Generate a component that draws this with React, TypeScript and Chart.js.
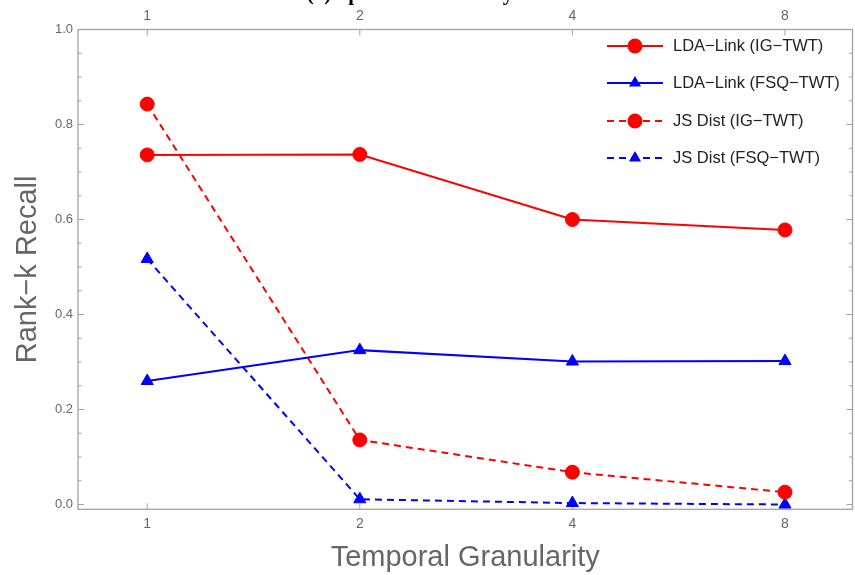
import React, { useEffect, useRef } from "react";
import { Chart, registerables } from "chart.js";

Chart.register(...registerables);

// ---- data ----
const granularity = [1, 2, 4, 8];
const xTickLabels = ["1", "2", "4", "8"];
const yTicks = [0, 0.2, 0.4, 0.6, 0.8, 1.0];
const yMinorTicks = [0.05, 0.1, 0.15, 0.25, 0.3, 0.35, 0.45, 0.5, 0.55, 0.65, 0.7, 0.75, 0.85, 0.9, 0.95];
const ldaLinkIG = [0.736, 0.737, 0.6, 0.578];
const ldaLinkFSQ = [0.26, 0.325, 0.301, 0.302];
const jsDistIG = [0.843, 0.136, 0.068, 0.026];
const jsDistFSQ = [0.517, 0.011, 0.003, 0.0];
const seriesNames = ["LDA\u2212Link (IG\u2212TWT)", "LDA\u2212Link (FSQ\u2212TWT)", "JS Dist (IG\u2212TWT)", "JS Dist (FSQ\u2212TWT)"];
const titleText = "(a) Spatial Granularity";
const xTitle = "Temporal Granularity";
const yTitle = "Rank\u2212k Recall";

const RED = "#ff0000";
const BLUE = "#0000ff";
const FRAME = "#a3a3a3";
const TEXT_GRAY = "#666666";
const DASH = [7, 5];

const seriesStyles = [
  { color: RED, dash: [] as number[], shape: "circle" },
  { color: BLUE, dash: [] as number[], shape: "triangle" },
  { color: RED, dash: DASH, shape: "circle" },
  { color: BLUE, dash: DASH, shape: "triangle" },
];
const seriesValues = [ldaLinkIG, ldaLinkFSQ, jsDistIG, jsDistFSQ];

function drawMarker(ctx: CanvasRenderingContext2D, shape: string, x: number, y: number, color: string) {
  ctx.save();
  ctx.fillStyle = color;
  ctx.setLineDash([]);
  ctx.beginPath();
  if (shape === "circle") {
    ctx.arc(x, y, 7.5, 0, Math.PI * 2);
  } else {
    const r = 7;
    for (let i = 0; i < 3; i++) {
      const a = (i * 2 * Math.PI) / 3;
      const px = x + Math.sin(a) * r;
      const py = y - Math.cos(a) * r;
      if (i === 0) ctx.moveTo(px, py);
      else ctx.lineTo(px, py);
    }
    ctx.closePath();
  }
  ctx.fill();
  ctx.restore();
}

const framePlugin = {
  id: "frameTicks",
  beforeDatasetsDraw(chart: any) {
    const { ctx, chartArea: a, scales } = chart;
    const ys = scales.y;
    const xs = scales.x;
    ctx.save();
    ctx.strokeStyle = FRAME;
    ctx.lineWidth = 1.3;
    ctx.strokeRect(a.left, a.top, a.right - a.left, a.bottom - a.top);
    const line = (x1: number, y1: number, x2: number, y2: number) => {
      ctx.beginPath();
      ctx.moveTo(x1, y1);
      ctx.lineTo(x2, y2);
      ctx.stroke();
    };
    ctx.lineWidth = 1;
    for (const v of yTicks) {
      const py = ys.getPixelForValue(v);
      line(a.left, py, a.left + 6, py);
      line(a.right, py, a.right - 6, py);
    }
    for (const v of yMinorTicks) {
      const py = ys.getPixelForValue(v);
      line(a.left, py, a.left + 3.5, py);
      line(a.right, py, a.right - 3.5, py);
    }
    for (const g of granularity) {
      const px = xs.getPixelForValue(g);
      line(px, a.bottom, px, a.bottom - 6);
      line(px, a.top, px, a.top + 6);
    }
    ctx.restore();
  },
};

const legendPlugin = {
  id: "customLegend",
  afterDraw(chart: any) {
    const { ctx } = chart;
    const rows = [46, 83, 121, 158];
    ctx.save();
    ctx.font = '16.5px "Liberation Sans", Arial, sans-serif';
    ctx.textBaseline = "middle";
    ctx.textAlign = "left";
    seriesNames.forEach((name, i) => {
      const st = seriesStyles[i];
      const y = rows[i];
      ctx.strokeStyle = st.color;
      ctx.lineWidth = 2;
      ctx.setLineDash(st.dash);
      ctx.beginPath();
      ctx.moveTo(607, y);
      ctx.lineTo(663, y);
      ctx.stroke();
      drawMarker(ctx, st.shape, 635, y, st.color);
      ctx.fillStyle = "#222222";
      ctx.fillText(name, 673, y);
    });
    ctx.restore();
  },
};

const titlePlugin = {
  id: "clippedTitle",
  afterDraw(chart: any) {
    const { ctx } = chart;
    ctx.save();
    ctx.font = 'bold 21px "Liberation Serif", "Times New Roman", serif';
    ctx.fillStyle = "#000";
    ctx.textAlign = "center";
    ctx.textBaseline = "alphabetic";
    ctx.fillText(titleText, 410, 0);
    ctx.restore();
  },
};

export default function App() {
  const ref = useRef<HTMLCanvasElement | null>(null);

  useEffect(() => {
    if (!ref.current) return;
    const datasets = seriesNames.map((name, i) => {
      const st = seriesStyles[i];
      return {
        label: name,
        data: granularity.map((g, j) => ({ x: g, y: seriesValues[i][j] })),
        borderColor: st.color,
        backgroundColor: st.color,
        borderWidth: 2,
        borderDash: st.dash,
        pointStyle: st.shape === "circle" ? "circle" : "triangle",
        pointRadius: 7,
        pointBorderWidth: 1,
        pointBorderColor: st.color,
        pointBackgroundColor: st.color,
        tension: 0,
        clip: false as any,
      };
    });

    const xCommon = {
      type: "logarithmic" as const,
      min: 0.798,
      max: 9.97,
      grid: { display: false, drawTicks: false },
      border: { display: false },
      afterBuildTicks: (scale: any) => {
        scale.ticks = granularity.map((g) => ({ value: g }));
      },
      ticks: {
        autoSkip: false,
        maxRotation: 0,
        color: TEXT_GRAY,
        font: { size: 14, family: '"Liberation Sans", Arial, sans-serif' },
        callback: (v: any) => {
          const idx = granularity.indexOf(Number(v));
          return idx >= 0 ? xTickLabels[idx] : "";
        },
      },
    };

    const chart = new Chart(ref.current, {
      type: "line",
      data: { datasets: datasets as any },
      plugins: [framePlugin, legendPlugin, titlePlugin],
      options: {
        animation: false,
        responsive: false,
        maintainAspectRatio: false,
        layout: { autoPadding: false, padding: { left: 0, right: 2.5, top: 0, bottom: 0 } },
        plugins: {
          legend: { display: false },
          tooltip: { enabled: false },
          title: { display: false },
        },
        scales: {
          x: {
            ...xCommon,
            position: "bottom",
            ticks: { ...xCommon.ticks, padding: 6 },
            title: {
              display: true,
              text: xTitle,
              color: TEXT_GRAY,
              font: { size: 29, family: '"Liberation Sans", Arial, sans-serif' },
              padding: { top: 0, bottom: 0 },
            },
            afterFit: (scale: any) => {
              scale.height = 65.7;
              scale.paddingLeft = 0;
              scale.paddingRight = 0;
            },
          },
          x2: {
            ...xCommon,
            position: "top",
            ticks: { ...xCommon.ticks, padding: 5 },
            afterFit: (scale: any) => {
              scale.height = 29.5;
              scale.paddingLeft = 0;
              scale.paddingRight = 0;
            },
          },
          y: {
            type: "linear",
            position: "left",
            min: -0.0101,
            max: 1.0,
            grid: { display: false, drawTicks: false },
            border: { display: false },
            afterBuildTicks: (scale: any) => {
              scale.ticks = yTicks.map((v) => ({ value: v }));
            },
            ticks: {
              padding: 5,
              color: TEXT_GRAY,
              font: { size: 13, family: '"Liberation Sans", Arial, sans-serif' },
              callback: (v: any) => Number(v).toFixed(1),
            },
            title: {
              display: true,
              text: yTitle,
              color: TEXT_GRAY,
              font: { size: 29, family: '"Liberation Sans", Arial, sans-serif' },
              padding: { top: 10.6, bottom: 0 },
            },
            afterFit: (scale: any) => {
              scale.width = 78;
            },
          },
        },
      } as any,
    });
    return () => chart.destroy();
  }, []);

  return (
    <div style={{ position: "absolute", left: 0, top: 0, width: 855, height: 575, background: "#fff" }}>
      <canvas ref={ref} width={855} height={575} style={{ display: "block" }} />
    </div>
  );
}
